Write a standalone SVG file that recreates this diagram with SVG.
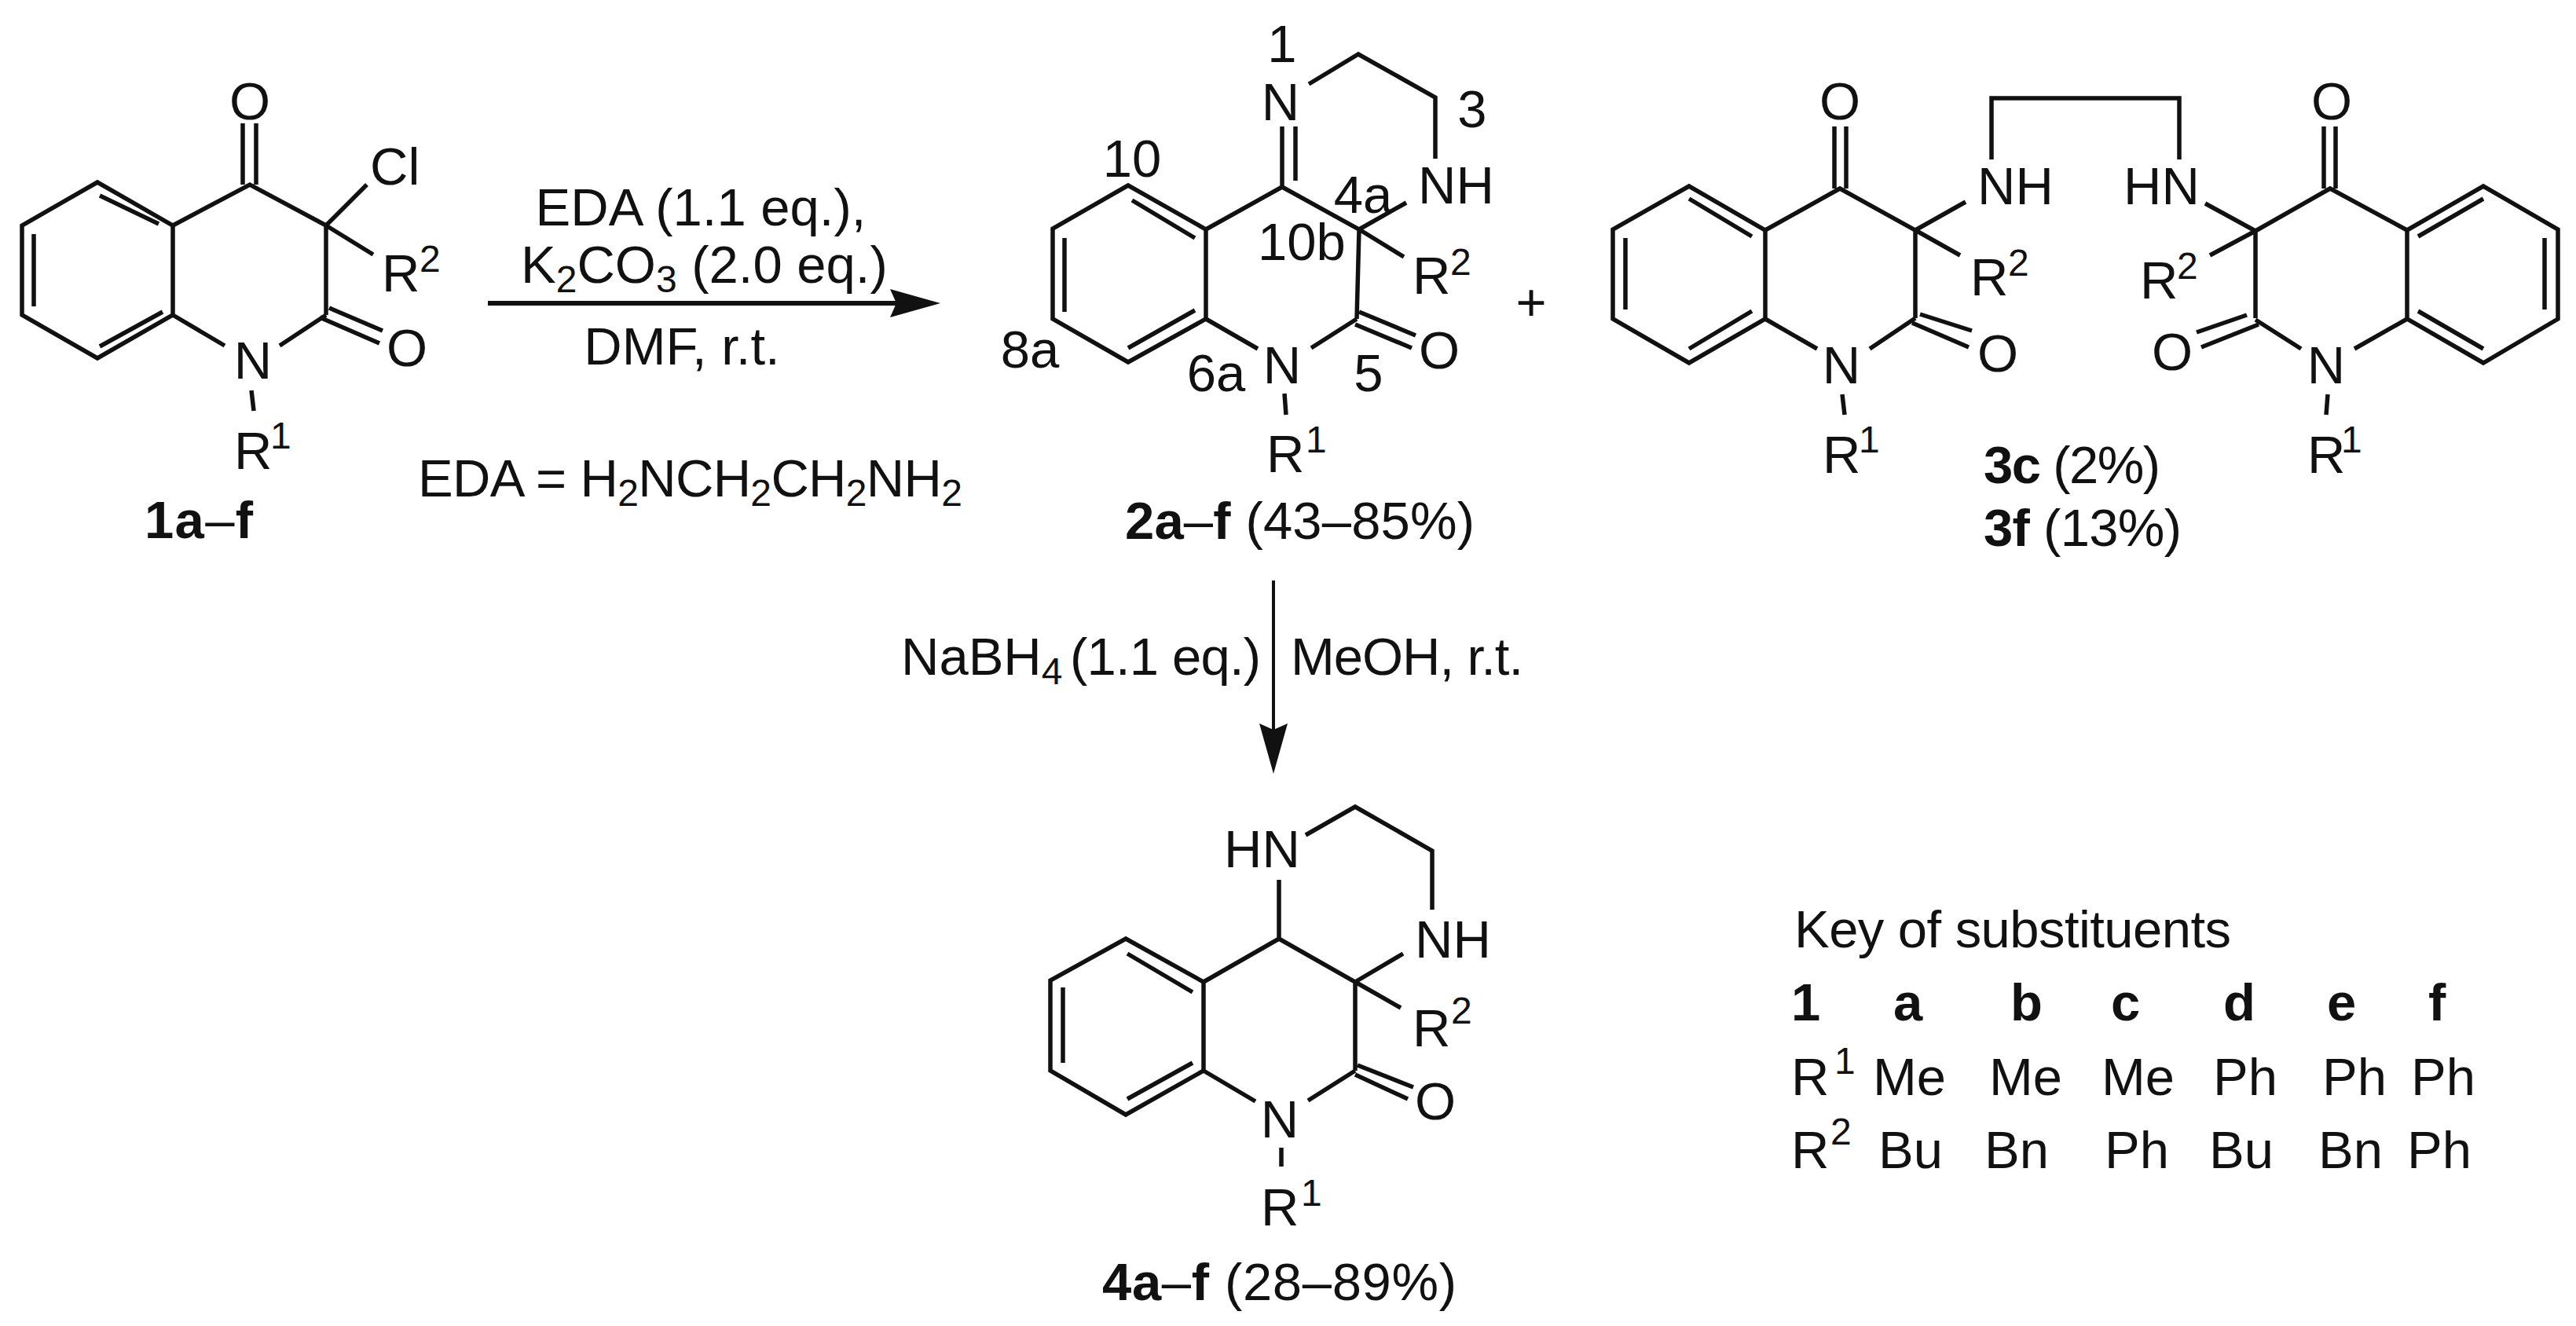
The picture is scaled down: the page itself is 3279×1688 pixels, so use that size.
<svg xmlns="http://www.w3.org/2000/svg" width="3279" height="1688" viewBox="0 0 3279 1688">
<style>
text{font-family:"Liberation Sans",Arial,sans-serif;font-size:67px;fill:#111}
.m{text-anchor:middle}
.b{font-weight:bold}
.u{font-size:48px}
path,line{fill:none;stroke:#111;stroke-width:5.5;stroke-linejoin:miter;stroke-linecap:butt}
.h{fill:#111;stroke:none}
</style>
<defs>
<marker id="ah" markerUnits="userSpaceOnUse" viewBox="0 0 64 36" refX="8" refY="18" markerWidth="64" markerHeight="36" orient="auto"><path class="h" d="M0,0L64,18L0,36L8,18Z"/></marker>
</defs>
<rect width="3279" height="1688" fill="#fff"/>
<g id="connectors">
<line x1="621" y1="386" x2="1141" y2="386" style="stroke-width:6" marker-end="url(#ah)"/>
<line x1="1621" y1="739" x2="1621" y2="929" style="stroke-width:4" marker-end="url(#ah)"/>
</g>
<g id="compound-1">
<path d="M124,232L28,287V401L124,456L220,401V287ZM43,298V390M127,249L202,285M127,441L207,397M220,287L318,235L415,287V401M309,157V235M326,157V235M415,287L467,235M415,287L475,324M419,392L487,421M407,404L483,437M415,401L356,440M220,401L286,440M320,497L323,523"/>
<text class="m" x="318" y="152">O</text>
<text x="471" y="235">Cl</text>
<text x="486" y="371">R</text><text class="u" x="534" y="346">2</text>
<text class="m" x="518" y="466">O</text>
<text class="m" x="322" y="482">N</text>
<text x="298" y="597">R</text><text class="u" x="344" y="571">1</text>
<text x="184" y="685" textLength="138"><tspan class="b">1a</tspan>–<tspan class="b">f</tspan></text>
</g>
<g id="conditions-1">
<text class="m" x="892" y="287">EDA (1.1 eq.),</text>
<text x="663" y="360">K<tspan class="u" dy="12">2</tspan><tspan dy="-12">CO</tspan><tspan class="u" dy="12">3</tspan><tspan dy="-12"> (2.0 eq.)</tspan></text>
<text class="m" x="868" y="464">DMF, r.t.</text>
<text x="532" y="632" textLength="693">EDA = H<tspan class="u" dy="12">2</tspan><tspan dy="-12">NCH</tspan><tspan class="u" dy="12">2</tspan><tspan dy="-12">CH</tspan><tspan class="u" dy="12">2</tspan><tspan dy="-12">NH</tspan><tspan class="u" dy="12">2</tspan></text>
</g>
<g id="compound-2">
<path d="M1436,236L1340,291V406L1436,461L1535,406V292ZM1355,303V397M1441,255L1521,303M1436,443L1521,395M1535,292L1632,238L1730,292L1727,406M1632,238V161M1649,161V230M1666,107L1729,69L1827,124V202M1730,292L1790,258M1730,292L1787,327M1730,397L1802,427M1725,413L1797,443M1727,406L1669,443M1535,406L1601,444M1635,501L1637,528"/>
<text class="m" x="1630" y="153">N</text>
<text x="1805" y="259">NH</text>
<text x="1798" y="374">R</text><text class="u" x="1846" y="350">2</text>
<text class="m" x="1832" y="469">O</text>
<text class="m" x="1632" y="488">N</text>
<text x="1612" y="601">R</text><text class="u" x="1662" y="576">1</text>
<text class="m" x="1632" y="79">1</text>
<text class="m" x="1874" y="162">3</text>
<text class="m" x="1441" y="225">10</text>
<text class="m" x="1735" y="271">4a</text>
<text class="m" x="1657" y="331">10b</text>
<text class="m" x="1311" y="468">8a</text>
<text class="m" x="1548" y="498">6a</text>
<text class="m" x="1742" y="498">5</text>
<text x="1432" y="686" textLength="445"><tspan class="b">2a</tspan>–<tspan class="b">f</tspan> (43–85%)</text>
</g>
<g id="plus"><text class="m" x="1949" y="408">+</text></g>
<g id="compound-3">
<path d="M2150,237L2053,292V406L2150,462L2247,406V293ZM2069,303V394M2150,253L2230,301M2150,444L2230,396M2247,293L2342,240L2438,293V405M2335,161V240M2350,161V240M2438,293L2502,257M2438,293L2495,325M2444,400L2510,421M2434,411L2506,442M2247,406L2313,444M2438,405L2380,444M2345,502L2348,528M2535,203V125H2774V203M2807,259L2871,294L2966,240L3064,293L3161,237L3256,292V406L3161,462L3064,406V293M2871,294V405M3239,303V394M3161,253L3078,301M3161,444L3078,396M2958,161V240M2973,161V240M2871,294L2813,325M2860,401L2796,423M2875,413L2802,442M2871,407L2929,444M3064,406L2997,444M2963,502L2961,528"/>
<text class="m" x="2342" y="152">O</text>
<text x="2517" y="260">NH</text>
<text x="2508" y="376">R</text><text class="u" x="2556" y="351">2</text>
<text class="m" x="2543" y="473">O</text>
<text class="m" x="2344" y="488">N</text>
<text x="2320" y="602">R</text><text class="u" x="2366" y="576">1</text>
<text x="2703" y="260">HN</text>
<text class="m" x="2968" y="152">O</text>
<text x="2724" y="380">R</text><text class="u" x="2771" y="355">2</text>
<text class="m" x="2765" y="471">O</text>
<text class="m" x="2961" y="488">N</text>
<text x="2937" y="602">R</text><text class="u" x="2980" y="576">1</text>
<text x="2525" y="615" textLength="225"><tspan class="b">3c</tspan> (2%)</text>
<text x="2525" y="695" textLength="252"><tspan class="b">3f</tspan> (13%)</text>
</g>
<g id="conditions-2">
<text x="1147" y="859">NaBH<tspan class="u" dy="12">4</tspan></text>
<text x="1362" y="859" textLength="243">(1.1 eq.)</text>
<text x="1643" y="859" textLength="296">MeOH, r.t.</text>
</g>
<g id="compound-4">
<path d="M1433,1195L1337,1248V1363L1433,1419L1532,1363V1250ZM1353,1257V1353M1435,1214L1518,1263M1435,1399L1518,1353M1532,1250L1628,1195L1725,1250V1363M1628,1195V1120M1662,1063L1725,1027L1823,1083V1158M1725,1250L1786,1214M1725,1250L1783,1283M1728,1356L1799,1384M1725,1368L1792,1399M1532,1363L1598,1402M1725,1363L1665,1401M1631,1461V1485"/>
<text x="1558" y="1104">HN</text>
<text x="1801" y="1219">NH</text>
<text x="1798" y="1332">R</text><text class="u" x="1847" y="1303">2</text>
<text class="m" x="1827" y="1425">O</text>
<text class="m" x="1629" y="1448">N</text>
<text x="1605" y="1560">R</text><text class="u" x="1656" y="1535">1</text>
<text x="1403" y="1655" textLength="451"><tspan class="b">4a</tspan>–<tspan class="b">f</tspan> (28–89%)</text>
</g>
<g id="key">
<text x="2284" y="1206" textLength="556">Key of substituents</text>
<g>
<text class="b" x="2280" y="1299">1</text><text class="b" x="2410" y="1299">a</text><text class="b" x="2559" y="1299">b</text><text class="b" x="2687" y="1299">c</text><text class="b" x="2830" y="1299">d</text><text class="b" x="2962" y="1299">e</text><text class="b" x="3091" y="1299">f</text>
</g>
<text x="2280" y="1394">R</text><text class="u" x="2335" y="1367">1</text>
<text x="2384" y="1394">Me</text><text x="2532" y="1394">Me</text><text x="2675" y="1394">Me</text><text x="2817" y="1394">Ph</text><text x="2956" y="1394">Ph</text><text x="3069" y="1394">Ph</text>
<text x="2280" y="1487">R</text><text class="u" x="2330" y="1457">2</text>
<text x="2391" y="1487">Bu</text><text x="2526" y="1487">Bn</text><text x="2679" y="1487">Ph</text><text x="2812" y="1487">Bu</text><text x="2951" y="1487">Bn</text><text x="3064" y="1487">Ph</text>
</g>
</svg>
